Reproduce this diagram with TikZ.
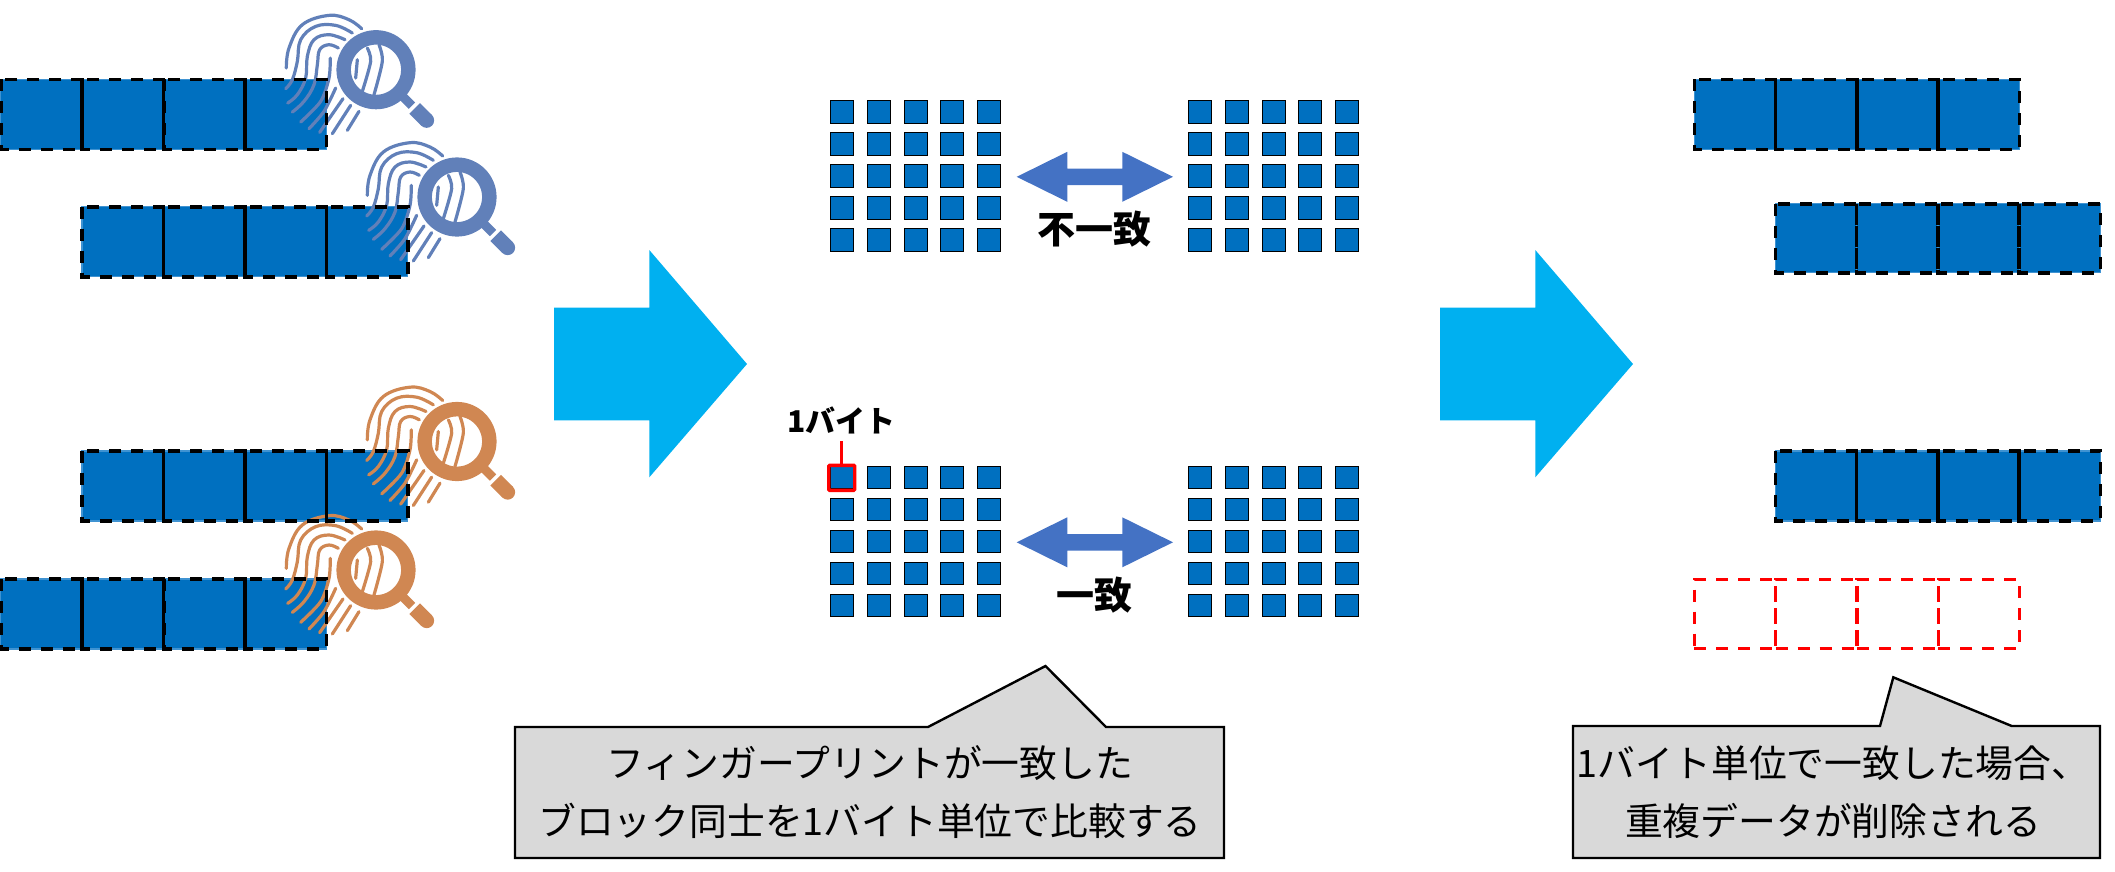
\documentclass[tikz,border=0pt]{standalone}
\usepackage{fontspec}
\newfontfamily\jp{Noto Sans CJK JP}
\definecolor{blockblue}{HTML}{0070C0}
\definecolor{edgeblue}{HTML}{3F93D2}
\definecolor{bigcyan}{HTML}{00B0F0}
\definecolor{dblblue}{HTML}{4472C4}
\definecolor{printblue}{HTML}{6180B9}
\definecolor{printorange}{HTML}{D08752}
\definecolor{calloutgrey}{HTML}{D9D9D9}
\tikzset{
  blockcell/.style={rectangle,anchor=north west,inner sep=0pt,outer sep=0pt,minimum width=81.3pt,minimum height=70pt,fill=blockblue,draw=edgeblue,line width=1.2pt},
  blockdash/.style={draw=black,line width=3.6pt,dash pattern=on 12pt off 10pt},
  redcell/.style={rectangle,anchor=north west,inner sep=0pt,outer sep=0pt,minimum width=81.3pt,minimum height=69pt,
    draw=red,line width=3.2pt,dash pattern=on 12pt off 10pt},
  bytecell/.style={rectangle,anchor=north west,inner sep=0pt,outer sep=0pt,minimum width=23.5pt,minimum height=22.5pt,fill=blockblue,draw=black,line width=1.3pt},
  bigarrow/.style={fill=bigcyan,draw=none},
  dblarrow/.style={fill=dblblue,draw=none},
  callout/.style={fill=calloutgrey,draw=black,line width=2.4pt,line join=miter},
  callouttext/.style={inner sep=0pt,align=center,font=\jp\fontsize{37.8}{58}\selectfont},
  boldtext/.style={inner sep=0pt,font=\jp\bfseries\fontsize{#1}{#1}\selectfont},
  ridge/.style={line width=3.2pt,line cap=round,line join=round},
}
% fingerprint with magnifier, centred on the lens
\newcommand{\fingerlens}[3]{%
\begin{scope}[shift={(#1,#2)},x=.3333pt,y=-.3333pt,draw=#3]
  \draw[ridge] plot[smooth,tension=.65] coordinates {(-269,-5)(-261,-65)(-221,-135)(-141,-163)(-81,-150)(-43,-123)};
  \draw[ridge] plot[smooth,tension=.65] coordinates {(-71,-110)(-121,-133)(-181,-130)(-226,-90)(-236,-25)(-251,30)(-271,57)};
  \draw[ridge] plot[smooth,tension=.65] coordinates {(-93,-90)(-141,-105)(-186,-90)(-206,-40)(-211,25)(-236,75)(-265,100)};
  \draw[ridge] plot[smooth,tension=.65] coordinates {(-113,-65)(-141,-75)(-169,-60)(-176,-15)(-186,45)(-216,95)(-251,127)};
  \draw[ridge] plot[smooth,tension=.5] coordinates {(-137,-35)(-141,25)(-166,95)(-226,157)};
  \draw[ridge] plot[smooth,tension=.5] coordinates {(-121,55)(-156,125)(-201,177)};
  \draw[ridge] plot[smooth,tension=.5] coordinates {(-99,87)(-169,188)};
  \draw[ridge] plot[smooth,tension=.5] coordinates {(-76,107)(-131,192)};
  \draw[ridge] plot[smooth,tension=.5] coordinates {(-51,125)(-86,182)};
  \draw[ridge] plot[smooth,tension=.5] coordinates {(-56,-30)(-61,25)};
  \draw[ridge] plot[smooth,tension=.5] coordinates {(-26,-65)(-16,-25)(-41,65)};
  \draw[ridge] plot[smooth,tension=.5] coordinates {(9,-75)(19,-25)(-6,75)};
  \draw[#3,line width=14.5pt] (0,0) circle (97);
  \draw[#3,line width=9pt] (74,74) -- (108,108);
  \draw[#3,line width=15pt] (116,116) -- (152,152);
  \fill[#3] (152,152) circle (22.5);
\end{scope}}
\begin{document}
\begin{tikzpicture}[x=1pt,y=-1pt]
\useasboundingbox (0,0) rectangle (2115,871);
% blocks
\foreach \i in {0,1,2,3}{
  \node[blockcell] (la\i) at ({0.7+81.5*\i},79.3) {};
  \node[blockcell] (lb\i) at ({82+81.5*\i},206.7) {};
  \node[blockcell] (lc\i) at ({82+81.5*\i},451) {};
  \node[blockcell] (ld\i) at ({0.7+81.5*\i},579) {};
  \node[blockcell] (ra\i) at ({1694.3+81.3*\i},79.3) {};
  \node[blockcell,minimum height=69pt] (rb\i) at ({1775.3+81.3*\i},203.7) {};
  \node[blockcell] (rc\i) at ({1775.3+81.3*\i},451) {};
  \node[redcell] (rd\i) at ({1694.3+81.3*\i},579.3) {};
}
\fingerlens{376}{69.7}{printblue}
\fingerlens{457}{197}{printblue}
\fingerlens{457}{441.5}{printorange}
\fingerlens{376}{570}{printorange}
% dashed outlines of the blocks, over the fills
\foreach \r in {la,lb,lc,ld,ra,rb,rc}{
  \foreach \i in {0,1,2,3}{
    \draw[blockdash] (\r\i.north west) rectangle (\r\i.south east);
  }
}
% big arrows
\foreach \dx in {0,886}{
  \fill[bigarrow,shift={(\dx,0)}] (554,307.7) -- (649.3,307.7) -- (649.3,250) -- (747,364) -- (649.3,477.3) -- (649.3,420.3) -- (554,420.3) -- cycle;
}
% byte grids
\foreach \gy/\gn in {0/u,365.5/l}{
 \foreach \gx/\gm in {0/a,358/b}{
  \foreach \cx [count=\ci] in {830.3,867.3,904.3,940.3,977.3}{
   \foreach \cy [count=\cj] in {100.8,132.8,164.8,196.8,228.8}{
    \node[bytecell] (g\gn\gm\ci\cj) at ({\cx+\gx},{\cy+\gy}) {};
   }
  }
 }
}
% double arrows
\foreach \dy in {0,365.5}{
  \fill[dblarrow,shift={(0,\dy)}] (1016.7,176.8) -- (1067.3,151.8) -- (1067.3,168.5) -- (1122.3,168.5) -- (1122.3,151.8) -- (1173,176.8) -- (1122.3,201.8) -- (1122.3,185.2) -- (1067.3,185.2) -- (1067.3,201.8) -- cycle;
}
\node[boldtext=38] (mismatch) at (1094,229) {不一致};
\node[boldtext=38] (match) at (1094,595) {一致};
% one byte marker
\node[boldtext=30] (bytelabel) at (841.5,420) {1バイト};
\node[rectangle,inner sep=0pt,outer sep=0pt,minimum width=26pt,minimum height=25pt,draw=red,line width=3.4pt,rounded corners=1pt] (redbox) at (841.7,477.8) {};
\coordinate (bytetop) at (841.7,441);
\draw[red,line width=3pt] (bytetop) -- (redbox.north);
% callouts
\draw[callout] (515,727) -- (928,727) -- (1045.5,666) -- (1106,727) -- (1224,727) -- (1224,858) -- (515,858) -- cycle;
\node[callouttext] (lefttext) at (870,792) {フィンガープリントが一致した\\ブロック同士を1バイト単位で比較する};
\draw[callout] (1573,726) -- (1880,726) -- (1893.3,677.3) -- (2011.7,726) -- (2100,726) -- (2100,858) -- (1573,858) -- cycle;
\node[callouttext] (righttext) at (1833,792) {1バイト単位で一致した場合、\\重複データが削除される};
\end{tikzpicture}
\end{document}
